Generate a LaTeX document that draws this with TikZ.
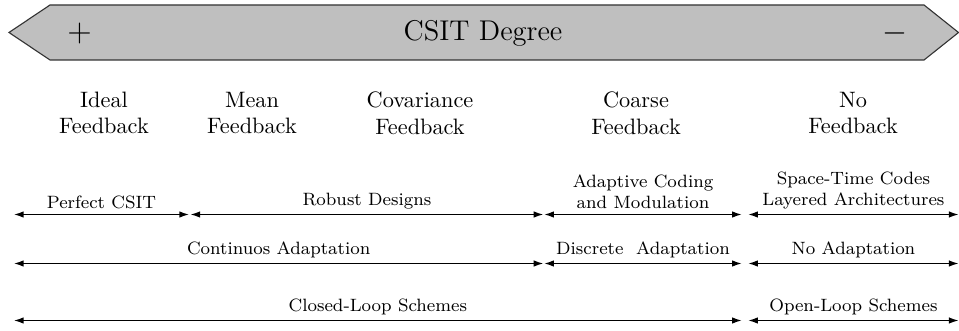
\documentclass[tikz,border=0pt]{standalone}
\usetikzlibrary{arrows.meta}
\begin{document}
\begin{tikzpicture}[x=0.4484pt,y=-0.4484pt,
  banner/.style={fill=gray!50,draw=black!80,line width=0.5pt},
  fbk/.style={align=center,font=\normalsize,inner sep=0pt},
  dbl/.style={{Latex[length=4.3pt,width=2.9pt]}-{Latex[length=4.3pt,width=2.9pt]},line width=0.55pt},
  lbl/.style={above,align=center,font=\footnotesize,inner sep=2.2pt}]
\useasboundingbox (0,0) rectangle (959,331);
% banner
\draw[banner] (9,32.5) -- (50,5) -- (924,5) -- (958.5,32.5) -- (924,60) -- (50,60) -- cycle;
\node (plus) at (79.5,33) {\Large $+$};
\node (title) at (483,33) {\fontsize{12.8}{15}\selectfont CSIT Degree};
\node (minus) at (895,33) {\Large $-$};
% feedback labels
\node[fbk] (ideal) at (104,113) {Ideal\\Feedback};
\node[fbk] (mean) at (252,113) {Mean\\Feedback};
\node[fbk] (cov) at (420,113) {Covariance\\Feedback};
\node[fbk] (coarse) at (636,113) {Coarse\\Feedback};
\node[fbk] (nofb) at (853,113) {No\\Feedback};
% row 1
\coordinate (r1a) at (14,214.5);
\coordinate (r1b) at (189,214.5);
\coordinate (r1c) at (190.5,214.5);
\coordinate (r1d) at (543.3,214.5);
\coordinate (r1e) at (544.3,214.5);
\coordinate (r1f) at (741.7,214.5);
\coordinate (r1g) at (748.3,214.5);
\coordinate (r1h) at (958.5,214.5);
\draw[dbl] (r1a) -- node[lbl] (perf) {Perfect CSIT} (r1b);
\draw[dbl] (r1c) -- node[lbl] (rob) {Robust Designs} (r1d);
\draw[dbl] (r1e) -- node[lbl] (acm) {Adaptive Coding\\and Modulation} (r1f);
\draw[dbl] (r1g) -- node[lbl] (stc) {Space-Time Codes\\Layered Architectures} (r1h);
% row 2
\coordinate (r2a) at (14,263.5);
\coordinate (r2d) at (543.3,263.5);
\coordinate (r2e) at (544.3,263.5);
\coordinate (r2f) at (741.7,263.5);
\coordinate (r2g) at (748.3,263.5);
\coordinate (r2h) at (958.5,263.5);
\draw[dbl] (r2a) -- node[lbl] (cont) {Continuos Adaptation} (r2d);
\draw[dbl] (r2e) -- node[lbl] (disc) {Discrete\ \ Adaptation} (r2f);
\draw[dbl] (r2g) -- node[lbl] (noad) {No Adaptation} (r2h);
% row 3
\coordinate (r3a) at (14,320.5);
\coordinate (r3f) at (741.7,320.5);
\coordinate (r3g) at (748.3,320.5);
\coordinate (r3h) at (958.5,320.5);
\draw[dbl] (r3a) -- node[lbl] (closed) {Closed-Loop Schemes} (r3f);
\draw[dbl] (r3g) -- node[lbl] (open) {Open-Loop Schemes} (r3h);
\end{tikzpicture}
\end{document}
